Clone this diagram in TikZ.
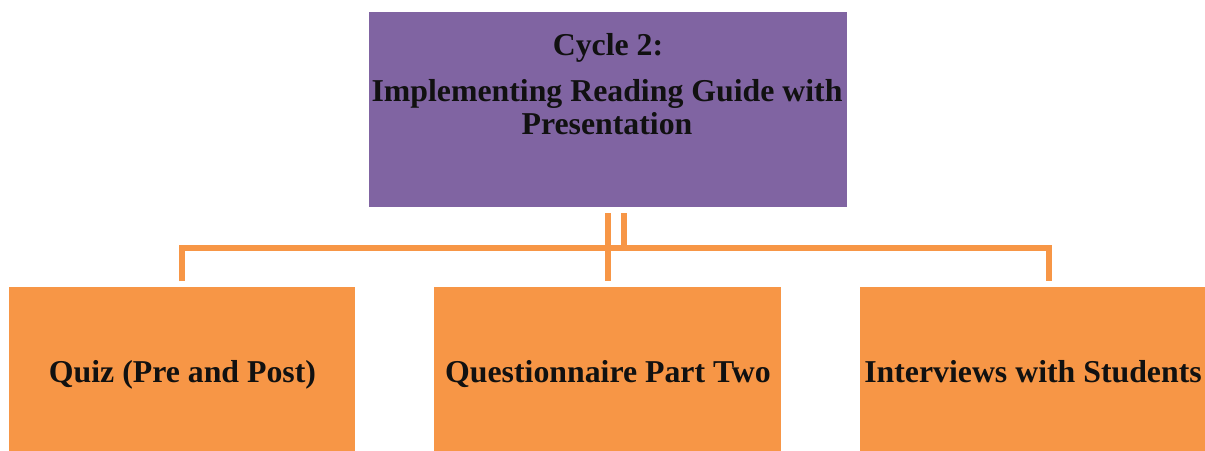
\documentclass[tikz,border=0pt]{standalone}
\usepackage{fontspec}
\setmainfont{Liberation Serif}
\definecolor{topfill}{HTML}{8064A2}
\definecolor{orangefill}{HTML}{F79646}
\definecolor{textcol}{HTML}{111111}
\begin{document}
\begin{tikzpicture}[x=1pt,y=-1pt,
  topbox/.style={draw=none,fill=topfill,anchor=north west,inner sep=0pt},
  botbox/.style={draw=none,fill=orangefill,anchor=north west,inner sep=0pt},
  lbl/.style={text=textcol,font=\bfseries\fontsize{31.8}{32.5}\selectfont,align=center,inner sep=0pt,anchor=base},
  conn/.style={draw=orangefill,line width=5.5pt}]
\useasboundingbox (0,0) rectangle (1205,450);
\fill[white] (0,0) rectangle (1205,450);
\node[topbox,minimum width=478pt,minimum height=195pt] (top) at (369,12) {};
\node[botbox,minimum width=346pt,minimum height=170pt] (b1) at (9,287) {};
\node[botbox,minimum width=347pt,minimum height=170pt] (b2) at (434,287) {};
\node[botbox,minimum width=345pt,minimum height=170pt] (b3) at (860,287) {};
\node[lbl] (t1) at (608,55.5) {Cycle 2:};
\node[lbl] (t2) at (607,134) {Implementing Reading Guide with\\Presentation};
\node[lbl] (l1) at (182.5,382) {Quiz (Pre and Post)};
\node[lbl] (l2) at (608,382) {Questionnaire Part Two};
\node[lbl] (l3) at (1033,382) {Interviews with Students};
\coordinate (s1) at ([yshift=-6pt]top.south -| 608,0);
\coordinate (s2) at ([yshift=-6pt]top.south -| 624,0);
\coordinate (e2) at ([yshift=6pt]b2.north -| 608,0);
\coordinate (h2) at (624,248);
\coordinate (hl) at (182,248);
\coordinate (hr) at (1049,248);
\coordinate (e1) at ([yshift=6pt]b1.north -| 182,0);
\coordinate (e3) at ([yshift=6pt]b3.north -| 1049,0);
\draw[conn] (s1) -- (e2);
\draw[conn] (s2) -- (h2);
\draw[conn,line join=miter] (e1) -- (hl) -- (hr) -- (e3);
\end{tikzpicture}
\end{document}
